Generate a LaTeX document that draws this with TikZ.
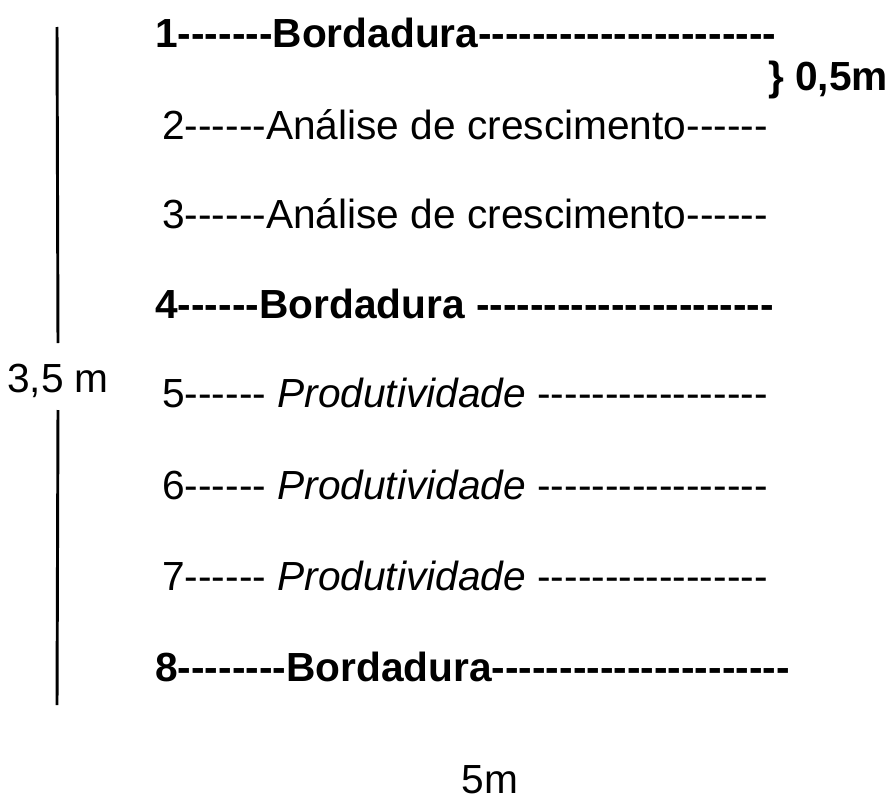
\documentclass[tikz,border=0pt]{standalone}
\usepackage{fontspec}
\setmainfont{Liberation Sans}[Ligatures=TeXOff]
\begin{document}
\begin{tikzpicture}[x=0.75pt,y=-0.75pt]
	\tikzset{linha/.style={anchor=west,inner sep=0pt,font=\fontsize{30.5}{36}\selectfont},
		medida/.style={inner sep=0pt,font=\fontsize{30.5}{36}\selectfont}}
	\useasboundingbox (0,0) rectangle (890,803);
	% linhas do ensaio
	\node[linha] (l1) at (155,33) {\textbf{1-------Bordadura----------------------}};
	\node[linha] (l2) at (162,125) {2------Análise de crescimento------};
	\node[linha] (l3) at (162,214) {3------Análise de crescimento------};
	\node[linha] (l4) at (155,304) {\textbf{4------Bordadura ----------------------}};
	\node[linha] (l5) at (162,393) {5------ \textit{Produtividade} -----------------};
	\node[linha] (l6) at (162,485) {6------ \textit{Produtividade} -----------------};
	\node[linha] (l7) at (162,576) {7------ \textit{Produtividade} -----------------};
	\node[linha] (l8) at (155,667) {\textbf{8--------Bordadura----------------------}};
	% medidas
	\node[linha] (meio) at (768,80) {\textbf{\} 0,5m}};
	\node[medida] (alt) at (58,381) {3,5 m};
	\coordinate (topo) at (57,27);
	\coordinate (base) at (57,705);
	\draw[line width=2.2pt] (topo) -- (alt.north |- 0,343);
	\draw[line width=2.2pt] (alt.south |- 0,410) -- (base);
	\node[medida] (larg) at (490,780) {5m};
\end{tikzpicture}
\end{document}
